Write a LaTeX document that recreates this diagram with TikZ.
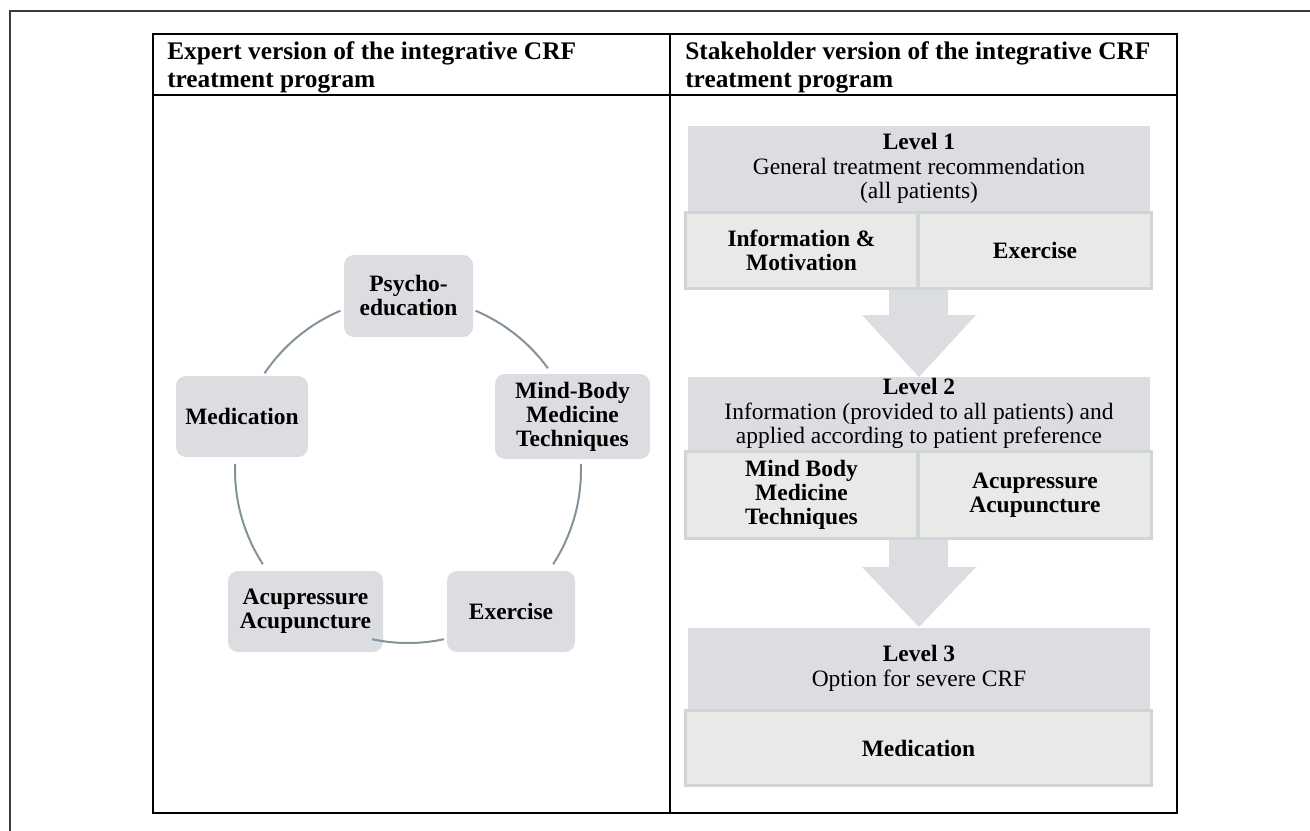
\documentclass[tikz,border=0pt]{standalone}
\usepackage{fontspec}
\setmainfont{Liberation Serif}
\usetikzlibrary{calc}
\definecolor{lvlgray}{HTML}{DCDDE0}
\definecolor{cellfill}{HTML}{E9E9E7}
\definecolor{cellline}{HTML}{D0D5D5}
\definecolor{ringcol}{HTML}{83929B}
\definecolor{framecol}{HTML}{3A3A3A}
\begin{document}
\begin{tikzpicture}[x=0.75pt,y=-0.75pt,
  boldlbl/.style={font=\fontsize{17.6}{18}\selectfont\bfseries, align=center, text=black},
  cyc/.style={boldlbl, fill=lvlgray, rounded corners=7.5pt, inner sep=0pt},
  lvl/.style={fill=lvlgray, inner sep=0pt, align=center, font=\fontsize{17.6}{18.5}\selectfont, minimum width=346.5pt},
  cell/.style={boldlbl, fill=cellfill, draw=cellline, line width=2.25pt, inner sep=0pt},
  hdr/.style={font=\fontsize{19}{21}\selectfont\bfseries, align=left, inner sep=0pt, anchor=west},
  ring/.style={draw=ringcol, line width=1.5pt},
  tbl/.style={draw=black, line width=1.6pt},
  arrowfill/.style={fill=lvlgray},
]
\useasboundingbox (0,0) rectangle (1310,831);
% outer frame (cut off at right and bottom)
\draw[framecol, line width=1pt] (10,831) -- (10,11) -- (1310,11);
% table
\draw[tbl] (153,34) rectangle (1177,813);
\draw[tbl] (153,95) -- (1177,95);
\draw[tbl] (670,34) -- (670,813);
\node[hdr] (hl) at (167,67) {Expert version of the integrative CRF\\treatment program};
\node[hdr] (hr) at (685,67) {Stakeholder version of the integrative CRF\\treatment program};

% ---- left: cycle ----
\coordinate (ctr) at (408,470);
\node[cyc, minimum width=96.75pt, minimum height=61.5pt] (psy) at (408.5,296) {Psycho-\\education};
\node[cyc, minimum width=116.25pt, minimum height=63.75pt] (mbm) at (572.5,416.5) {Mind-Body\\Medicine\\Techniques};
\node[cyc, minimum width=96pt, minimum height=60.75pt] (exe) at (511,611.5) {Exercise};
\node[cyc, minimum width=116.25pt, minimum height=60.75pt] (acu) at (305.5,611.5) {Acupressure\\Acupuncture};
\node[cyc, minimum width=99pt, minimum height=60.75pt] (med) at (242,416.5) {Medication};
\draw[ring] (ctr) ++(-67:173) arc[start angle=-67, end angle=-36, radius=173];
\draw[ring] (ctr) ++(-2:173) arc[start angle=-2, end angle=33, radius=173];
\draw[ring] (ctr) ++(78:173) arc[start angle=78, end angle=102, radius=173];
\draw[ring] (ctr) ++(147:173) arc[start angle=147, end angle=182, radius=173];
\draw[ring] (ctr) ++(214:173) arc[start angle=214, end angle=247, radius=173];

% ---- right: levels ----
\node[lvl, minimum height=63.75pt] (l1) at (919,168.5) {\textbf{Level 1}\\General treatment recommendation\\(all patients)};
\node[cell, minimum width=174.4pt, minimum height=57pt] (c1a) at (801.5,250.5) {Information \&\\Motivation};
\node[cell, minimum width=174.75pt, minimum height=57pt] (c1b) at (1035,250.5) {Exercise};
\fill[arrowfill] (889,290) -- (948,290) -- (948,315) -- (976,315) -- (919,377) -- (862,315) -- (889,315) -- cycle;

\node[lvl, minimum height=54.75pt] (l2) at (919,413.5) {\textbf{Level 2}\\Information (provided to all patients) and\\applied according to patient preference};
\node[cell, minimum width=174.4pt, minimum height=65.25pt] (c2a) at (801.5,495) {Mind Body\\Medicine\\Techniques};
\node[cell, minimum width=174.75pt, minimum height=65.25pt] (c2b) at (1035,495) {Acupressure\\Acupuncture};
\fill[arrowfill] (889,540) -- (948,540) -- (948,567) -- (976,567) -- (919,627) -- (862,567) -- (889,567) -- cycle;

\node[lvl, minimum height=60.75pt] (l3) at (919,668.5) {\textbf{Level 3}\\Option for severe CRF};
\node[cell, minimum width=349.5pt, minimum height=56.25pt] (c3) at (918.5,748) {Medication};
\end{tikzpicture}
\end{document}
